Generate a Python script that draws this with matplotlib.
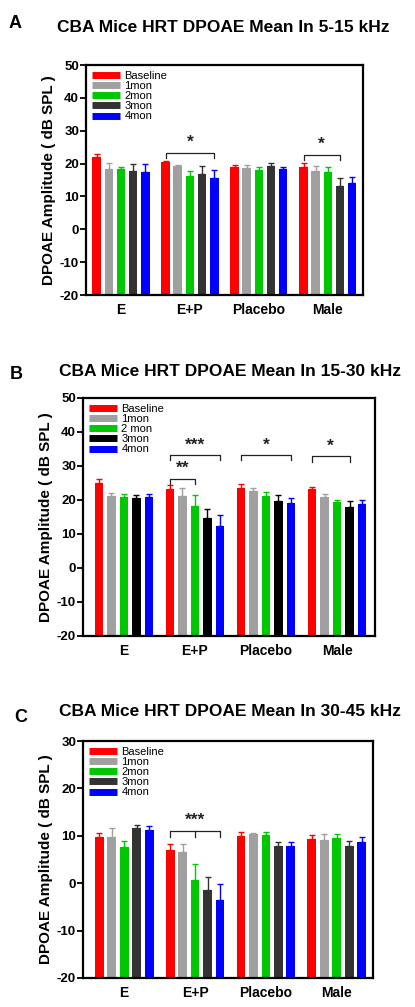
import matplotlib
matplotlib.use("Agg")
from matplotlib import pyplot as plt
from matplotlib.lines import Line2D
import numpy as np

plt.rcParams['font.family'] = ['Liberation Sans', 'DejaVu Sans']
plt.rcParams['axes.unicode_minus'] = False

groups = ['E', 'E+P', 'Placebo', 'Male']
series_a = ['Baseline', '1mon', '2mon', '3mon', '4mon']
series_b = ['Baseline', '1mon', '2 mon', '3mon', '4mon']

# panel A: 5-15 kHz, rows = series, cols = groups
mean_a = [[22.0, 20.5, 19.0, 19.0],
          [18.5, 19.3, 18.8, 17.6],
          [18.3, 16.2, 18.0, 17.4],
          [17.6, 16.7, 19.2, 13.3],
          [17.4, 15.5, 18.3, 14.1]]
err_a = [[0.8, 0.4, 0.7, 1.2],
         [1.8, 0.4, 0.9, 1.6],
         [0.8, 1.4, 0.9, 1.5],
         [2.4, 2.5, 0.9, 2.2],
         [2.6, 2.4, 0.8, 1.7]]

# panel B: 15-30 kHz
mean_b = [[25.0, 23.2, 23.5, 23.2],
          [21.3, 21.3, 22.7, 20.9],
          [20.8, 18.2, 21.3, 19.5],
          [20.5, 14.8, 19.8, 18.0],
          [20.8, 12.5, 19.2, 18.9]]
err_b = [[1.3, 1.1, 1.1, 0.6],
         [0.9, 2.2, 0.9, 1.0],
         [0.9, 3.3, 1.0, 0.6],
         [1.1, 2.5, 1.6, 1.7],
         [0.9, 3.0, 1.3, 1.1]]

# panel C: 30-45 kHz
mean_c = [[9.85, 7.0, 10.0, 9.3],
          [9.8, 6.5, 10.3, 9.1],
          [7.6, 0.7, 10.1, 9.6],
          [11.7, -1.4, 7.9, 7.9],
          [11.2, -3.6, 7.9, 8.6]]
err_c = [[0.65, 1.2, 0.7, 0.8],
         [1.9, 1.7, 0.3, 1.2],
         [1.3, 3.3, 0.6, 0.7],
         [0.6, 2.7, 0.8, 1.1],
         [0.8, 3.4, 0.7, 1.1]]

# significance brackets: (group, first bar, last bar, y, label)
sig_a = [(1, 0, 4, 23.3, '*'), (3, 0, 3, 22.7, '*')]
sig_b = [(1, 0, 4, 33.2, '***'), (1, 0, 2, 26.3, '**'),
         (2, 0, 4, 33.2, '*'), (3, 0, 3, 32.8, '*')]
sig_c = [(1, 0, 4, 11.0, '***')]

W, H = 415, 1007
step = 0.176
width = 0.125


def draw_panel(rect, mean, err, colors, labels, ylim, xlim, sigs, tick_h, mid_tick=False):
    ax = fig.add_axes(rect)
    x = np.arange(len(groups))
    base = ylim[0]
    for j in range(len(mean)):
        pos = x + (j - 2) * step
        vals = np.array(mean[j])
        # bars rise from the bottom of the axis, as in the original figure
        ax.bar(pos, vals - base, bottom=base, width=width, color=colors[j], zorder=2)
        ax.errorbar(pos, vals, yerr=[np.zeros(len(groups)), err[j]], fmt='none',
                    ecolor=colors[j], elinewidth=1.0, capsize=2.5, capthick=1.0, zorder=3)
    for g, b0, b1, y, txt in sigs:
        x0 = g + (b0 - 2) * step
        x1 = g + (b1 - 2) * step
        ax.plot([x0, x0, x1, x1], [y - tick_h, y, y, y - tick_h], color='#222222', lw=0.9)
        if mid_tick:
            xm = g + (2 - 2) * step
            ax.plot([xm, xm], [y, y - tick_h], color='#222222', lw=0.9)
        ax.text((x0 + x1) / 2, y + tick_h * 0.5, txt, ha='center', va='bottom',
                fontsize=12.5, fontweight='bold', color='#222222')
    ax.set_xlim(*xlim)
    ax.set_ylim(*ylim)
    ax.set_yticks(np.arange(ylim[0], ylim[1] + 1, 10))
    ax.set_xticks(x)
    ax.set_xticklabels(groups, fontsize=10, fontweight='bold')
    ax.tick_params(axis='x', length=0, pad=6)
    ax.tick_params(axis='y', length=4, width=1.3, labelsize=9.5, pad=1)
    for t in ax.get_yticklabels():
        t.set_fontweight('bold')
    for s in ax.spines.values():
        s.set_linewidth(1.6)
    ax.set_ylabel('DPOAE Amplitude ( dB SPL )', fontsize=11, fontweight='bold', labelpad=3)
    handles = [Line2D([0], [0], color=c, lw=5, solid_capstyle='butt') for c in colors]
    ax.legend(handles, labels, loc='upper left', frameon=False, fontsize=8,
              handlelength=2.6, handletextpad=0.35, labelspacing=0.02,
              borderaxespad=0.3, borderpad=0.2)
    return ax


fig = plt.figure(figsize=(W / 100, H / 100), dpi=100)

cols_dark = ['#FF0000', '#A0A0A0', '#00C800', '#333333', '#0000FF']
cols_black = ['#FF0000', '#A0A0A0', '#00C800', '#000000', '#0000FF']


def frac(px_left, px_top, px_right, px_bottom):
    return [px_left / W, 1 - px_bottom / H, (px_right - px_left) / W, (px_bottom - px_top) / H]


draw_panel(frac(86, 65, 363, 295), mean_a, err_a, cols_dark, series_a, (-20, 50),
           (-0.507, 3.51), sig_a, 1.5)
draw_panel(frac(83, 398, 375, 636), mean_b, err_b, cols_black, series_b, (-20, 50),
           (-0.577, 3.535), sig_b, 1.5)
draw_panel(frac(83, 741, 373, 978), mean_c, err_c, cols_dark, series_a, (-20, 30),
           (-0.58, 3.51), sig_c, 1.3, mid_tick=True)

titles = ['CBA Mice HRT DPOAE Mean In 5-15 kHz',
          'CBA Mice HRT DPOAE Mean In 15-30 kHz',
          'CBA Mice HRT DPOAE Mean In 30-45 kHz']
title_pos = [(223, 28), (230, 371), (230, 712)]
letters = ['A', 'B', 'C']
letter_pos = [(15, 24), (16, 374), (21, 717)]
for t, (tx, ty) in zip(titles, title_pos):
    fig.text(tx / W, 1 - ty / H, t, ha='center', va='center', fontsize=12.5, fontweight='bold')
for l, (lx, ly) in zip(letters, letter_pos):
    fig.text(lx / W, 1 - ly / H, l, ha='center', va='center', fontsize=13, fontweight='bold')

fig.savefig('out.png', dpi=100)
